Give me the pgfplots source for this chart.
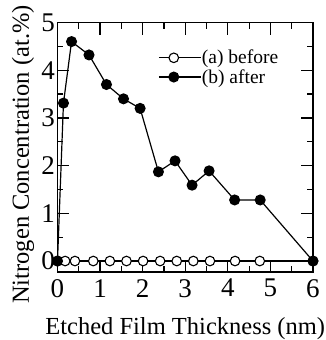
\documentclass[border=0pt]{standalone}
\usepackage{fontspec}
\setmainfont{Liberation Serif}
\usepackage{pgfplots}
\pgfplotsset{compat=1.18}
\begin{document}
\begin{tikzpicture}
\begin{axis}[
  name=ax,
  scale only axis,
  width=255.5pt, height=249.5pt,
  xmin=0, xmax=6, ymin=-0.23, ymax=5,
  xtick={0,1,2,3,4,5,6}, ytick={0,1,2,3,4,5},
  minor tick num=1,
  tick align=inside,
  major tick length=12pt, minor tick length=6pt,
  axis line style={line width=1.4pt},
  every tick/.style={line width=1.2pt, black},
  /pgf/number format/assume math mode=true,
  tick label style={font=\fontsize{27}{30}\selectfont},
  xticklabel style={inner sep=0pt, yshift=-7pt},
  yticklabel style={inner sep=0pt, xshift=-2.5pt},
  xlabel={Etched Film Thickness (nm)},
  ylabel={Nitrogen Concentration (at.\%)},
  label style={font=\fontsize{24.5}{28}\selectfont},
  xlabel style={at={([yshift=-57pt]axis description cs:0.5,0)}, anchor=center},
  ylabel style={at={([xshift=-34.5pt]axis description cs:0,0.471)}, anchor=center},
  clip=false,
  legend cell align=left,
  legend style={draw=none, fill=none, inner sep=0pt, row sep=3pt,
    font=\fontsize{19.5}{19.5}\selectfont,
    nodes={inner sep=0.5pt},
    at={([xshift=100.5pt,yshift=-27pt]axis description cs:0,1)}, anchor=north west},
  legend image code/.code={\draw[#1, mark repeat=2, mark phase=2] plot coordinates {(0pt,0pt) (15pt,0pt) (42pt,0pt)};},
]
\addplot[black, line width=1.2pt, mark=*, mark size=4.8pt,
  mark options={fill=white, line width=1.1pt}]
  coordinates {(0,0) (0.18,0) (0.41,0) (0.84,0) (1.23,0) (1.62,0) (2.01,0) (2.41,0) (2.80,0) (3.19,0) (3.58,0) (4.17,0) (4.75,0) (6,0)};
\addlegendentry{(a) before}
\addplot[black, line width=1.2pt, mark=*, mark size=4.9pt,
  mark options={fill=black}]
  coordinates {(0,0) (0.14,3.31) (0.33,4.60) (0.74,4.32) (1.15,3.70) (1.55,3.40) (1.94,3.20) (2.37,1.87) (2.76,2.10) (3.16,1.59) (3.56,1.89) (4.16,1.28) (4.76,1.28) (6,0)};
\addlegendentry{(b) after}
\end{axis}
\pgfresetboundingbox
\path ([shift={(-57.5pt,-68pt)}]ax.south west) rectangle ++(325pt,340pt);
\end{tikzpicture}
\end{document}
